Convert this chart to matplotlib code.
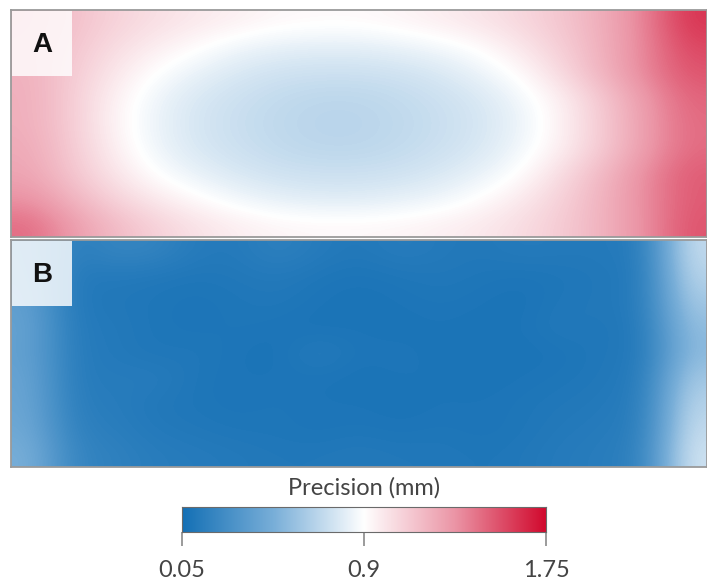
import numpy as np
import matplotlib
matplotlib.use("Agg")
import matplotlib.pyplot as plt
from matplotlib.colors import LinearSegmentedColormap, Normalize
from matplotlib.patches import Rectangle

# Precision (mm) sampled on a coarse 9 x 17 grid over each field (rows top to bottom)
precision_a = [
    [1.22, 1.15, 1.08, 1.03, 0.99, 0.96, 0.93, 0.92, 0.92, 0.94, 0.97, 1.01, 1.06, 1.13, 1.23, 1.38, 1.62],
    [1.20, 1.13, 1.04, 0.97, 0.91, 0.85, 0.82, 0.81, 0.81, 0.83, 0.86, 0.91, 1.00, 1.10, 1.22, 1.37, 1.56],
    [1.21, 1.11, 1.00, 0.90, 0.83, 0.78, 0.75, 0.74, 0.74, 0.75, 0.78, 0.84, 0.92, 1.06, 1.21, 1.37, 1.52],
    [1.22, 1.10, 0.96, 0.85, 0.78, 0.74, 0.71, 0.69, 0.69, 0.71, 0.74, 0.78, 0.86, 0.97, 1.13, 1.30, 1.47],
    [1.22, 1.10, 0.95, 0.84, 0.77, 0.73, 0.70, 0.68, 0.68, 0.70, 0.73, 0.77, 0.84, 0.96, 1.12, 1.29, 1.45],
    [1.24, 1.11, 0.97, 0.85, 0.78, 0.74, 0.71, 0.69, 0.69, 0.71, 0.74, 0.78, 0.86, 0.97, 1.12, 1.29, 1.45],
    [1.26, 1.13, 1.01, 0.90, 0.83, 0.78, 0.75, 0.74, 0.74, 0.75, 0.78, 0.83, 0.91, 1.05, 1.19, 1.35, 1.50],
    [1.33, 1.20, 1.08, 0.99, 0.92, 0.86, 0.82, 0.80, 0.80, 0.82, 0.85, 0.91, 0.99, 1.09, 1.21, 1.35, 1.50],
    [1.45, 1.30, 1.18, 1.09, 1.02, 0.97, 0.94, 0.93, 0.93, 0.94, 0.96, 0.99, 1.04, 1.11, 1.21, 1.34, 1.52],
]

precision_b = [
    [0.34, 0.14, 0.20, 0.19, 0.13, 0.12, 0.17, 0.13, 0.11, 0.14, 0.12, 0.11, 0.13, 0.12, 0.12, 0.14, 0.72],
    [0.36, 0.12, 0.12, 0.11, 0.10, 0.11, 0.12, 0.10, 0.09, 0.10, 0.11, 0.10, 0.09, 0.10, 0.11, 0.13, 0.68],
    [0.38, 0.12, 0.11, 0.10, 0.09, 0.10, 0.11, 0.09, 0.08, 0.09, 0.10, 0.09, 0.08, 0.11, 0.11, 0.14, 0.62],
    [0.40, 0.13, 0.12, 0.10, 0.09, 0.10, 0.09, 0.08, 0.09, 0.08, 0.09, 0.08, 0.09, 0.12, 0.10, 0.13, 0.56],
    [0.39, 0.14, 0.12, 0.10, 0.11, 0.09, 0.08, 0.14, 0.09, 0.10, 0.08, 0.09, 0.08, 0.09, 0.11, 0.12, 0.54],
    [0.41, 0.14, 0.13, 0.14, 0.10, 0.09, 0.09, 0.09, 0.08, 0.09, 0.09, 0.08, 0.09, 0.10, 0.11, 0.14, 0.62],
    [0.42, 0.15, 0.14, 0.11, 0.10, 0.09, 0.10, 0.09, 0.09, 0.08, 0.09, 0.09, 0.10, 0.11, 0.12, 0.15, 0.68],
    [0.44, 0.17, 0.15, 0.12, 0.11, 0.10, 0.10, 0.09, 0.10, 0.09, 0.10, 0.09, 0.10, 0.12, 0.13, 0.16, 0.72],
    [0.48, 0.20, 0.17, 0.14, 0.13, 0.12, 0.11, 0.11, 0.12, 0.11, 0.11, 0.10, 0.11, 0.13, 0.14, 0.18, 0.76],
]

panel_labels = ["A", "B"]
vmin, vmax = 0.05, 1.75
tick_values = [0.05, 0.9, 1.75]
tick_labels = ["0.05", "0.9", "1.75"]
cbar_title = "Precision (mm)"

plt.rcParams["font.family"] = ["Lato", "DejaVu Sans"]

cmap = LinearSegmentedColormap.from_list(
    "precision",
    [(0.0, "#1470b5"), (0.25, "#78aed8"), (0.5, "#ffffff"),
     (0.75, "#eb95a6"), (1.0, "#d10a2e")],
)
norm = Normalize(vmin=vmin, vmax=vmax)

W, H = 707, 580
fig = plt.figure(figsize=(W / 100, H / 100), dpi=100)

def px_axes(x0, y0, x1, y1):
    return fig.add_axes([x0 / W, 1 - y1 / H, (x1 - x0) / W, (y1 - y0) / H])

panels = [(precision_a, (11, 10, 707, 237)), (precision_b, (11, 240, 707, 467))]
for label, (grid, box) in zip(panel_labels, panels):
    ax = px_axes(*box)
    ax.imshow(np.array(grid), cmap=cmap, norm=norm, aspect="auto",
              interpolation="bicubic", extent=(0, 1, 0, 1))
    ax.set_xlim(0, 1)
    ax.set_ylim(0, 1)
    ax.set_xticks([])
    ax.set_yticks([])
    for sp in ax.spines.values():
        sp.set_color("#9a9a9a")
        sp.set_linewidth(1.3)
    bw = 60 / (box[2] - box[0])
    bh = 65 / (box[3] - box[1])
    ax.add_patch(Rectangle((0.0015, 1 - bh - 0.004), bw, bh, transform=ax.transAxes,
                           facecolor="white", alpha=0.82, edgecolor="none", zorder=3))
    ax.text(0.0015 + bw / 2, 1 - bh / 2 - 0.01, label, transform=ax.transAxes,
            ha="center", va="center", fontsize=20, fontweight="bold",
            family=["Liberation Sans", "DejaVu Sans"], color="#111111", zorder=4)

# Horizontal colour bar
cax = px_axes(182, 507, 546, 532)
grad = np.linspace(vmin, vmax, 512)[None, :]
cax.imshow(grad, cmap=cmap, norm=norm, aspect="auto",
           extent=(vmin, vmax, 0, 1))
cax.set_xlim(vmin, vmax)
cax.set_ylim(0, 1)
cax.set_yticks([])
cax.set_xticks(tick_values)
cax.set_xticklabels(tick_labels)
cax.tick_params(axis="x", length=10, width=1.2, color="#8a8a8a", pad=10,
                labelsize=17, labelcolor="#444444")
for sp in cax.spines.values():
    sp.set_color("#6a6a6a")
    sp.set_linewidth(0.8)

fig.text(364 / W, 1 - 488 / H, cbar_title, ha="center", va="center",
         fontsize=17, color="#444444")

fig.savefig("out.png", dpi=100)
